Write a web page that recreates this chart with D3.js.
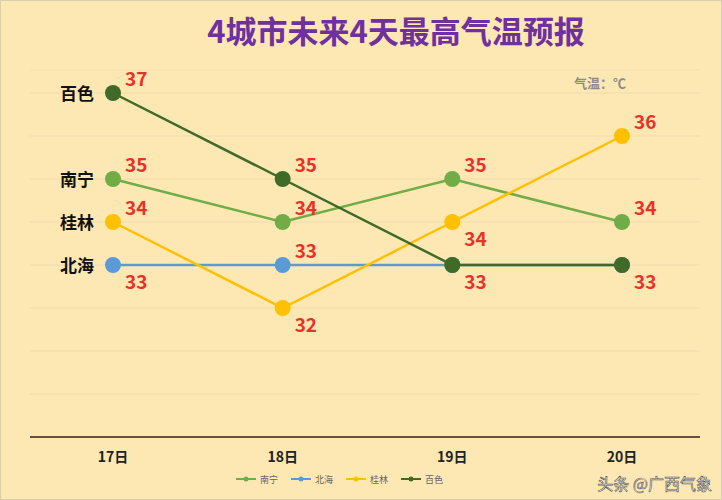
<!DOCTYPE html>
<html><head><meta charset="utf-8">
<script src="https://cdn.jsdelivr.net/npm/d3@7"></script>
<style>body{margin:0;background:#fff}</style>
</head><body>
<script>
// chart values
var days = ["17日", "18日", "19日", "20日"];
var cities = ["南宁", "北海", "桂林", "百色"];
var nanning = [35, 34, 35, 34];
var beihai = [33, 33, 33, 33];
var guilin = [34, 32, 34, 36];
var baise = [37, 35, 33, 33];
var colors = ["#70ad47", "#5b9bd5", "#ffc000", "#3f6a27"];
// label offset side per point: 1 = above-right, -1 = below-right
var labelSide = [
    [1, 1, 1, 1],
    [-1, 1, 0, 0],
    [1, -1, -1, 1],
    [1, 1, -1, -1]
];

var width = 722, height = 500;
var svg = d3.select("body").append("svg").attr("width", width).attr("height", height)
    .style("font-family", "'Noto Sans CJK SC', sans-serif");

svg.append("rect").attr("x", 0.5).attr("y", 0.5).attr("width", width - 1).attr("height", height - 1)
    .attr("fill", "#fde8b3").attr("stroke", "#d9cfae");

var x = d3.scalePoint().domain(days).range([113, 622]);
var y = d3.scaleLinear().domain([29, 37]).range([437, 93]);

// horizontal grid
var ticks = d3.range(29, 38);
svg.selectAll(".grid").data(ticks).enter().append("line")
    .attr("x1", 30).attr("x2", 700)
    .attr("y1", function(d){ return y(d); }).attr("y2", function(d){ return y(d); })
    .attr("stroke", function(d){ return d == 29 ? "#6b4f3a" : "#eedcae"; })
    .attr("stroke-width", function(d){ return d == 29 ? 2 : 1; });
svg.append("line").attr("x1", 30).attr("x2", 700).attr("y1", 70).attr("y2", 70).attr("stroke", "#f3e0b0");

svg.append("text").attr("x", 396).attr("y", 43).attr("text-anchor", "middle")
    .attr("font-size", 31).attr("font-weight", "bold").attr("fill", "#7030a0")
    .text("4城市未来4天最高气温预报");
svg.append("text").attr("x", 600).attr("y", 88).attr("text-anchor", "middle")
    .attr("font-size", 13).attr("font-weight", "bold").attr("fill", "#8c8c8c").text("气温：℃");

svg.selectAll(".day").data(days).enter().append("text")
    .attr("x", function(d){ return x(d); }).attr("y", 462).attr("text-anchor", "middle")
    .attr("font-size", 14).attr("font-weight", "bold").attr("fill", "#222").text(function(d){ return d; });

var series = [nanning, beihai, guilin, baise];
var line = d3.line().x(function(d, i){ return x(days[i]); }).y(function(d){ return y(d); });
// draw bottom to top so 百色 sits above
[1, 0, 2, 3].forEach(function(s){
    svg.append("path").datum(series[s]).attr("d", line).attr("fill", "none")
        .attr("stroke", colors[s]).attr("stroke-width", 2.5);
    svg.selectAll(".pt" + s).data(series[s]).enter().append("circle")
        .attr("cx", function(d, i){ return x(days[i]); }).attr("cy", function(d){ return y(d); })
        .attr("r", 8).attr("fill", colors[s]);
});
series.forEach(function(vals, s){
    vals.forEach(function(v, i){
        var side = labelSide[s][i];
        if (side == 0) return;
        svg.append("text").attr("x", x(days[i]) + 12).attr("y", y(v) + (side > 0 ? -7 : 24))
            .attr("font-size", 19).attr("font-weight", "bold").attr("fill", "#e8312a").text(v);
    });
    svg.append("text").attr("x", 94).attr("y", y(vals[0]) + 7).attr("text-anchor", "end")
        .attr("font-size", 17).attr("font-weight", "bold").attr("fill", "#111").text(cities[s]);
});

// legend
var lg = svg.selectAll(".lg").data(cities).enter().append("g")
    .attr("transform", function(d, i){ return "translate(" + (236 + i * 55) + ",479)"; });
lg.append("line").attr("x1", 0).attr("x2", 20).attr("stroke", function(d, i){ return colors[i]; }).attr("stroke-width", 2);
lg.append("circle").attr("cx", 10).attr("r", 2.5).attr("fill", function(d, i){ return colors[i]; });
lg.append("text").attr("x", 24).attr("y", 3.5).attr("font-size", 9).attr("fill", "#666").text(function(d){ return d; });

svg.append("text").attr("x", 712).attr("y", 490).attr("text-anchor", "end")
    .attr("font-size", 16).attr("fill", "#fff").attr("stroke", "#555").attr("stroke-width", 0.6)
    .text("头条 @广西气象");
</script>
</body></html>
